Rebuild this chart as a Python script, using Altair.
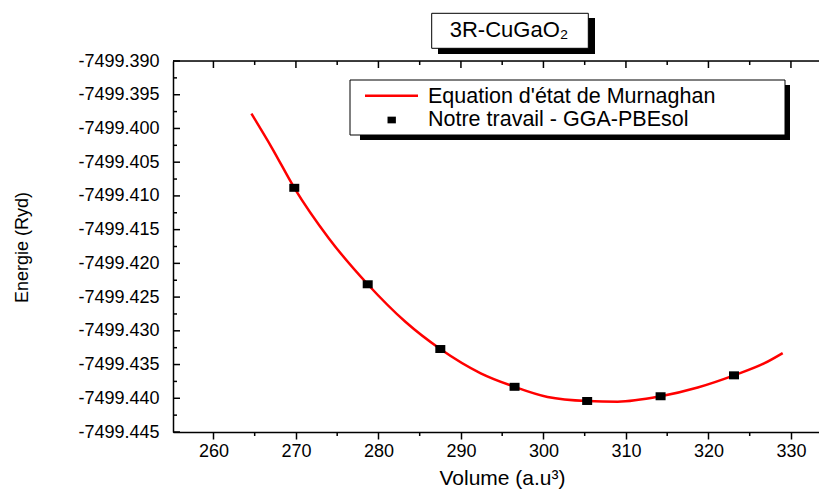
import altair as alt
import pandas as pd

# ---- data ----
vol_pts = [269.8, 278.7, 287.5, 296.5, 305.3, 314.2, 323.1]
e_pts = [-7499.4088, -7499.4231, -7499.4327, -7499.4383, -7499.4404, -7499.4397, -7499.4366]

curve_v = [264.6, 267.1, 269.8, 274.0, 278.7, 283.3, 287.5, 292.4, 296.5, 300.5,
           305.3, 309.0, 314.2, 318.7, 323.1, 326.8, 329.0]
curve_e = [-7499.3978, -7499.4029, -7499.4088, -7499.4163, -7499.4231, -7499.4287,
           -7499.4327, -7499.4363, -7499.4383, -7499.4398, -7499.4404, -7499.4405,
           -7499.4397, -7499.4384, -7499.4366, -7499.4348, -7499.4333]

x_major = [260, 270, 280, 290, 300, 310, 320, 330]
x_minor = [265, 275, 285, 295, 305, 315, 325]
y_major = [-7499.390, -7499.395, -7499.400, -7499.405, -7499.410, -7499.415,
           -7499.420, -7499.425, -7499.430, -7499.435, -7499.440, -7499.445]
y_minor = [-7499.3925, -7499.3975, -7499.4025, -7499.4075, -7499.4125, -7499.4175,
           -7499.4225, -7499.4275, -7499.4325, -7499.4375, -7499.4425]

title_text = "3R-CuGaO₂"
legend_labels = ["Equation d'état de Murnaghan", "Notre travail - GGA-PBEsol"]
x_title = "Volume (a.u³)"
y_title = "Energie (Ryd)"

W, H = 646, 371
FONT = "Liberation Sans"
SQ = "M-1,-0.8L1,-0.8L1,0.8L-1,0.8Z"

xs = alt.Scale(domain=[255.1, 333.4], nice=False, zero=False)
ys = alt.Scale(domain=[-7499.445, -7499.390], nice=False, zero=False)

# identical axis objects on every layer, so merging has no conflicts
x_axis = alt.Axis(values=x_major, format="d", title=x_title)
y_axis = alt.Axis(values=y_major, title=y_title,
                  labelExpr="'-' + format(-datum.value, '.3f')")

curve_df = pd.DataFrame({"V": curve_v, "E": curve_e})
pts_df = pd.DataFrame({"V": vol_pts, "E": e_pts})

curve = alt.Chart(curve_df).mark_line(color="#ff0000", strokeWidth=2.5,
                                      interpolate="monotone").encode(
    x=alt.X("V:Q", scale=xs, axis=x_axis),
    y=alt.Y("E:Q", scale=ys, axis=y_axis),
)

points = alt.Chart(pts_df).mark_point(shape=SQ, filled=True, color="black",
                                      size=100, opacity=1).encode(
    x=alt.X("V:Q", scale=xs, axis=x_axis),
    y=alt.Y("E:Q", scale=ys, axis=y_axis),
)

# inward / minor ticks drawn through the scales
ymaj = alt.Chart(pd.DataFrame({"t": y_major})).mark_rule(color="black", strokeWidth=1.5).encode(
    y=alt.Y("t:Q", scale=ys, axis=y_axis), x=alt.value(0), x2=alt.value(7))
ymin = alt.Chart(pd.DataFrame({"t": y_minor})).mark_rule(color="black", strokeWidth=1.5).encode(
    y=alt.Y("t:Q", scale=ys, axis=y_axis), x=alt.value(0), x2=alt.value(4))
tmaj = alt.Chart(pd.DataFrame({"t": x_major})).mark_rule(color="black", strokeWidth=1.5).encode(
    x=alt.X("t:Q", scale=xs, axis=x_axis), y=alt.value(0), y2=alt.value(7))
tmin = alt.Chart(pd.DataFrame({"t": x_minor})).mark_rule(color="black", strokeWidth=1.5).encode(
    x=alt.X("t:Q", scale=xs, axis=x_axis), y=alt.value(0), y2=alt.value(4))
bmin = alt.Chart(pd.DataFrame({"t": x_minor})).mark_rule(color="black", strokeWidth=1.5).encode(
    x=alt.X("t:Q", scale=xs, axis=x_axis), y=alt.value(H), y2=alt.value(H + 4))

one = pd.DataFrame({"k": [0]})
top_border = alt.Chart(one).mark_rule(color="black", strokeWidth=1.5).encode(
    x=alt.value(0), x2=alt.value(W), y=alt.value(0))

# legend (box with drop shadow)
leg_shadow = alt.Chart(one).mark_rect(color="black").encode(
    x=alt.value(187), x2=alt.value(617), y=alt.value(24), y2=alt.value(79))
leg_box = alt.Chart(one).mark_rect(fill="white", stroke="black", strokeWidth=1).encode(
    x=alt.value(177), x2=alt.value(612), y=alt.value(19), y2=alt.value(74))
leg_line = alt.Chart(one).mark_rule(color="#ff0000", strokeWidth=2.5).encode(
    x=alt.value(192), x2=alt.value(245), y=alt.value(34.7))
leg_sq = alt.Chart(one).mark_point(shape=SQ, filled=True, color="black",
                                   size=70, opacity=1).encode(
    x=alt.value(218.7), y=alt.value(59))
leg_t1 = alt.Chart(one).mark_text(align="left", baseline="alphabetic", font=FONT,
                                  fontSize=21.5, color="black").encode(
    x=alt.value(255), y=alt.value(42), text=alt.value(legend_labels[0]))
leg_t2 = alt.Chart(one).mark_text(align="left", baseline="alphabetic", font=FONT,
                                  fontSize=21.5, color="black").encode(
    x=alt.value(255), y=alt.value(64.5), text=alt.value(legend_labels[1]))

# title box with drop shadow
t_shadow = alt.Chart(one).mark_rect(color="black").encode(
    x=alt.value(265), x2=alt.value(422), y=alt.value(-43), y2=alt.value(-7))
t_box = alt.Chart(one).mark_rect(fill="white", stroke="black", strokeWidth=1).encode(
    x=alt.value(258.7), x2=alt.value(415.3), y=alt.value(-47.7), y2=alt.value(-12.7))
t_text = alt.Chart(one).mark_text(align="center", baseline="alphabetic", font=FONT,
                                  fontSize=22, color="black").encode(
    x=alt.value(336), y=alt.value(-24), text=alt.value(title_text))

chart = alt.layer(
    curve, points, ymaj, ymin, tmaj, tmin, bmin, top_border,
    leg_shadow, leg_box, leg_line, leg_sq, leg_t1, leg_t2,
    t_shadow, t_box, t_text,
).properties(
    width=W, height=H,
    padding={"left": 173, "top": 61, "right": 0, "bottom": 58},
    autosize=alt.AutoSizeParams(type="none"),
    background="white",
).configure_view(
    stroke=None
).configure(
    font=FONT
).configure_axis(
    grid=False, labelOverlap=False, labelFlush=False,
    domainColor="black", domainWidth=1.5, labelColor="black",
    labelFont=FONT, titleFont=FONT, titleFontWeight="normal", titleColor="black",
).configure_axisX(
    tickColor="black", tickWidth=1.5, tickSize=7, labelFontSize=18, labelPadding=3,
    titleFontSize=21, titleBaseline="alphabetic", titleAnchor="middle",
    titleX=329, titleY=52,
).configure_axisY(
    ticks=False, tickSize=0, labelFontSize=18, labelPadding=14,
    titleFontSize=18, titleBaseline="alphabetic", titleAngle=270,
    titleX=-146, titleY=186,
)

chart.save("out.html", embed_options={"renderer": "svg", "actions": False})
